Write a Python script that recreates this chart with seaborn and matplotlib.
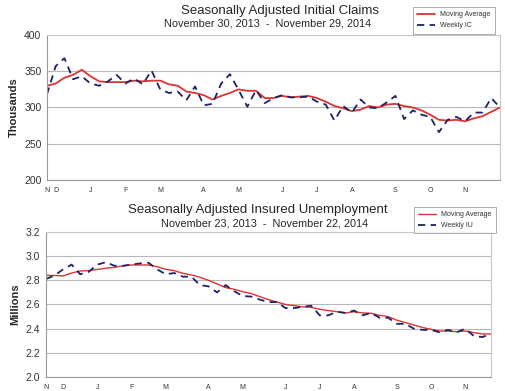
import pandas as pd
import seaborn as sns
import matplotlib.pyplot as plt
from matplotlib.ticker import FixedLocator

# weekly values
ic_weekly = [318, 357, 368, 339, 343, 333, 330, 336, 345, 333, 340, 332, 351, 325,
             320, 322, 310, 329, 303, 305, 333, 346, 324, 301, 324, 306, 313, 317,
             314, 314, 315, 308, 304, 282, 302, 293, 311, 300, 299, 307, 316, 284,
             296, 290, 287, 266, 283, 287, 281, 293, 293, 313, 300]
ic_avg = [330, 333, 341, 345, 352, 343, 336, 335, 335, 335, 337, 336, 337, 337,
          332, 330, 322, 320, 317, 311, 316, 320, 325, 323, 323, 313, 313, 316,
          314, 315, 316, 313, 308, 302, 299, 295, 297, 302, 300, 304, 305, 302,
          300, 296, 290, 283, 282, 283, 281, 285, 288, 294, 300]

iu_weekly = [2.81, 2.84, 2.89, 2.93, 2.85, 2.87, 2.93, 2.95, 2.92, 2.92, 2.93, 2.94,
             2.945, 2.89, 2.85, 2.86, 2.83, 2.83, 2.76, 2.75, 2.70, 2.76, 2.71, 2.67,
             2.665, 2.64, 2.62, 2.62, 2.57, 2.57, 2.58, 2.59, 2.51, 2.51, 2.54, 2.53,
             2.55, 2.51, 2.53, 2.49, 2.49, 2.44, 2.44, 2.40, 2.39, 2.39, 2.37, 2.39,
             2.37, 2.40, 2.34, 2.33, 2.36]
iu_avg = [2.84, 2.84, 2.836, 2.86, 2.877, 2.88, 2.89, 2.90, 2.907, 2.92, 2.927, 2.927,
          2.927, 2.913, 2.89, 2.88, 2.858, 2.844, 2.825, 2.80, 2.77, 2.74, 2.725, 2.706,
          2.69, 2.665, 2.64, 2.62, 2.60, 2.59, 2.58, 2.577, 2.56, 2.55, 2.54, 2.53,
          2.54, 2.53, 2.527, 2.51, 2.50, 2.47, 2.45, 2.43, 2.41, 2.395, 2.38, 2.38,
          2.375, 2.38, 2.367, 2.356, 2.356]

ic_dates = pd.date_range("2013-11-30", periods=len(ic_weekly), freq="7D")
iu_dates = pd.date_range("2013-11-23", periods=len(iu_weekly), freq="7D")

RED = "#dd3333"
NAVY = "#1c2463"

sns.set_style("white")
plt.rcParams["font.family"] = ["Liberation Sans", "DejaVu Sans"]

fig = plt.figure(figsize=(5.05, 3.91), dpi=100)
ax1 = fig.add_axes([0.093, 0.5396, 0.897, 0.371])
ax2 = fig.add_axes([0.091, 0.0358, 0.881, 0.371])


def draw(ax, dates, weekly, avg, wlabel, ylim, yticks, fmt, ylabel, avg_lw):
    df = pd.DataFrame({"date": dates, "weekly": weekly, "avg": avg})
    sns.lineplot(data=df, x="date", y="avg", ax=ax, color=RED, lw=avg_lw,
                 label="Moving Average")
    sns.lineplot(data=df, x="date", y="weekly", ax=ax, color=NAVY, lw=1.3,
                 label=wlabel)
    ax.lines[1].set_dashes([4, 3])
    ax.set_xlim(dates[0], dates[-1])
    ax.set_ylim(*ylim)
    ax.set_yticks(yticks)
    ax.set_yticklabels([fmt.format(v) for v in yticks], fontsize=7.5, color="#333333")
    ax.grid(axis="y", color="#b8b8b8", lw=0.8)
    # month labels at the first week of each month
    months = pd.Series(dates.month)
    first = [0] + [i for i in range(1, len(dates)) if months[i] != months[i - 1]]
    ax.set_xticks([dates[i] for i in first])
    ax.set_xticklabels([dates[i].strftime("%b")[0] for i in first], fontsize=5,
                       color="#333333")
    ax.xaxis.set_minor_locator(FixedLocator([d.toordinal() - 719163 for d in dates]))
    ax.tick_params(axis="x", which="both", length=2, width=0.5, color="#888888", pad=3)
    ax.tick_params(axis="y", length=0, pad=4)
    for s in ax.spines.values():
        s.set_color("#c8c8c8")
        s.set_linewidth(0.8)
    ax.spines["left"].set_color("#999999")
    ax.spines["bottom"].set_color("#999999")
    ax.set_xlabel("")
    ax.set_ylabel(ylabel, fontsize=8, fontweight="bold")
    ax.get_legend().remove()


draw(ax1, ic_dates, ic_weekly, ic_avg, "Weekly IC", (200, 400),
     [200, 250, 300, 350, 400], "{:.0f}", "Thousands", 1.3)
draw(ax2, iu_dates, iu_weekly, iu_avg, "Weekly IU", (2.0, 3.2),
     [2.0, 2.2, 2.4, 2.6, 2.8, 3.0, 3.2], "{:.1f}", "Millions", 1.0)

fig.text(0.555, 0.972, "Seasonally Adjusted Initial Claims", ha="center",
         va="center", fontsize=9.5)
fig.text(0.53, 0.939, "November 30, 2013  -  November 29, 2014", ha="center",
         va="center", fontsize=7.8)
fig.text(0.51, 0.464, "Seasonally Adjusted Insured Unemployment", ha="center",
         va="center", fontsize=9.5)
fig.text(0.523, 0.429, "November 23, 2013  -  November 22, 2014", ha="center",
         va="center", fontsize=7.8)

for ax, box in [(ax1, (0.812, 0.918, 0.174, 0.06)), (ax2, (0.816, 0.408, 0.170, 0.058))]:
    leg = ax.legend(loc="center", bbox_to_anchor=box, bbox_transform=fig.transFigure,
                    fontsize=5, frameon=True, fancybox=False, handlelength=2.5,
                    borderpad=0.6, labelspacing=0.6)
    leg.get_frame().set_edgecolor("#888888")
    leg.get_frame().set_linewidth(0.6)
    for t in leg.get_texts():
        t.set_color("#333333")

fig.savefig("out.png", dpi=100)
